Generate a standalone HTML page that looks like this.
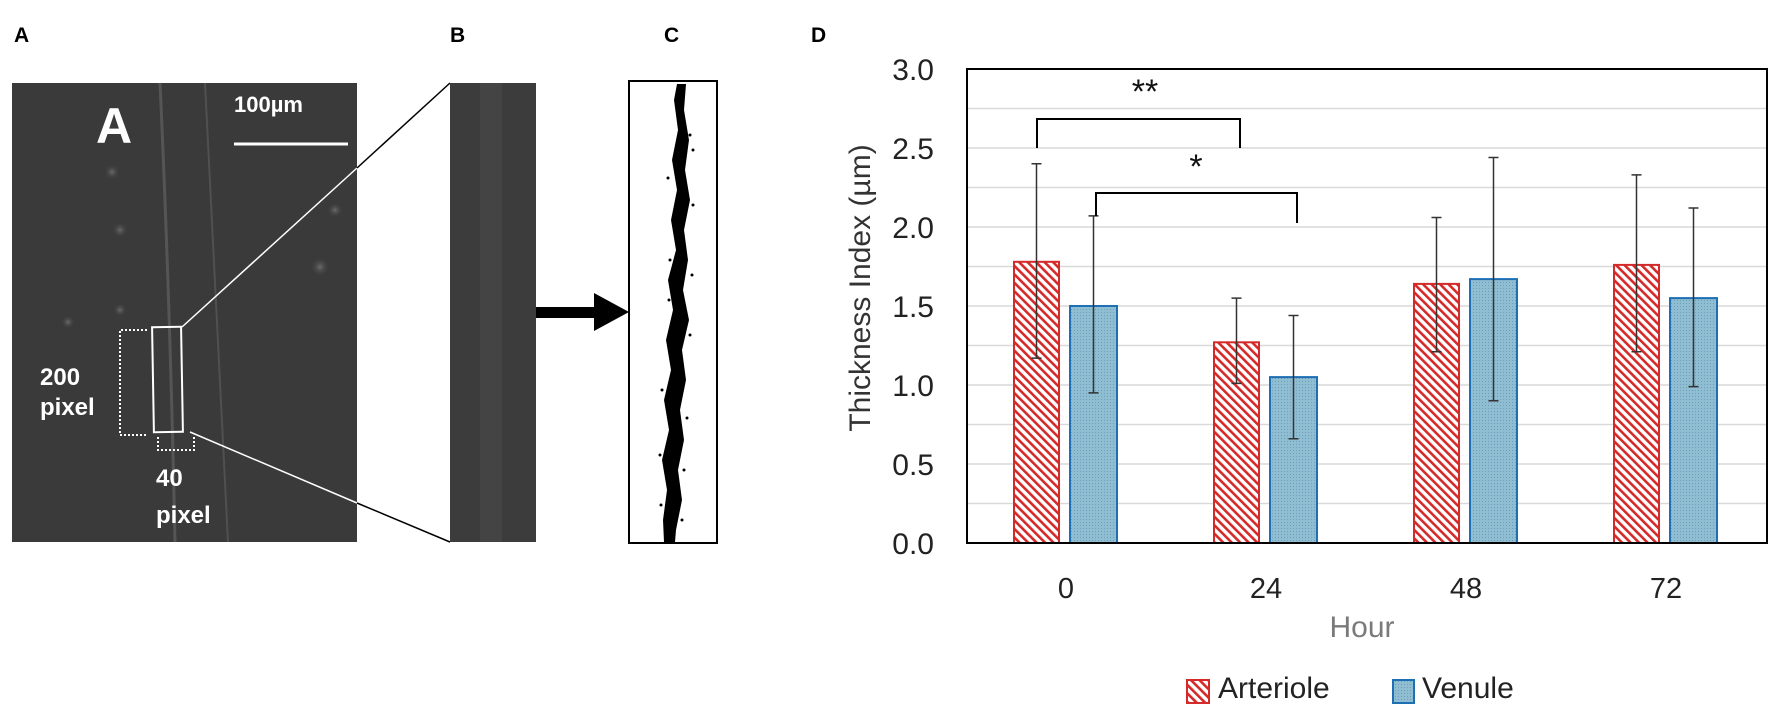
<!DOCTYPE html>
<html><head><meta charset="utf-8"><style>
html,body{margin:0;padding:0;background:#fff;}
svg{display:block;}
</style></head><body>
<svg width="1772" height="718" viewBox="0 0 1772 718" xmlns="http://www.w3.org/2000/svg" font-family="Liberation Sans, sans-serif">
<defs>
<pattern id="hatch" patternUnits="userSpaceOnUse" width="6" height="6" patternTransform="rotate(-45)">
<rect width="6" height="6" fill="#fff"/><rect x="0" y="0" width="2.6" height="6" fill="#d42a2a"/>
</pattern>
<pattern id="dots" patternUnits="userSpaceOnUse" width="3" height="3">
<rect width="3" height="3" fill="#8fbdd1"/><rect width="1" height="1" fill="#6f9fb8"/>
</pattern>
<radialGradient id="glow" cx="0.5" cy="0.5" r="0.5"><stop offset="0" stop-color="#6a6a6a"/><stop offset="1" stop-color="#3a3a3a" stop-opacity="0"/></radialGradient>
</defs>
<g font-weight="bold" font-size="21" fill="#000">
<text x="14" y="42">A</text><text x="450" y="42">B</text><text x="664" y="42">C</text><text x="811" y="42">D</text>
</g>
<rect x="12" y="83" width="345" height="459" fill="#3a3a3a"/>
<path d="M160 83 Q170 300 175 542" stroke="#555" stroke-width="3" fill="none"/>
<path d="M205 83 Q215 300 228 542" stroke="#505050" stroke-width="2" fill="none"/>
<circle cx="112" cy="172" r="8" fill="url(#glow)"/><circle cx="120" cy="230" r="8" fill="url(#glow)"/>
<circle cx="335" cy="210" r="8" fill="url(#glow)"/><circle cx="320" cy="267" r="10" fill="url(#glow)"/>
<circle cx="68" cy="322" r="7" fill="url(#glow)"/><circle cx="120" cy="310" r="7" fill="url(#glow)"/>
<text x="96" y="143" font-size="50" font-weight="bold" fill="#fff">A</text>
<text x="234" y="112" font-size="22" font-weight="bold" fill="#fff">100µm</text>
<line x1="234" y1="144" x2="348" y2="144" stroke="#fff" stroke-width="3"/>
<rect x="153" y="327" width="29" height="105" fill="none" stroke="#fff" stroke-width="2" transform="rotate(-1 168 380)"/>
<path d="M147 330 H120 V435 H147" fill="none" stroke="#fff" stroke-width="2" stroke-dasharray="2 2"/>
<path d="M158 437 V450 H194 V437" fill="none" stroke="#fff" stroke-width="2" stroke-dasharray="2 2"/>
<text x="40" y="385" font-size="24" font-weight="bold" fill="#fff">200</text>
<text x="40" y="415" font-size="24" font-weight="bold" fill="#fff">pixel</text>
<text x="156" y="486" font-size="24" font-weight="bold" fill="#fff">40</text>
<text x="156" y="523" font-size="24" font-weight="bold" fill="#fff">pixel</text>
<line x1="182" y1="327" x2="357" y2="168" stroke="#fff" stroke-width="1.5"/>
<line x1="357" y1="168" x2="450" y2="83" stroke="#000" stroke-width="1.5"/>
<line x1="190" y1="432" x2="357" y2="503" stroke="#fff" stroke-width="1.5"/>
<line x1="357" y1="503" x2="450" y2="542" stroke="#000" stroke-width="1.5"/>
<rect x="450" y="83" width="86" height="459" fill="#3c3c3c"/>
<rect x="480" y="83" width="22" height="459" fill="#444"/>
<rect x="536" y="307" width="60" height="11" fill="#000"/>
<polygon points="594,293 629,312 594,331" fill="#000"/>
<rect x="629" y="81" width="88" height="462" fill="#fff" stroke="#000" stroke-width="2"/>
<polygon fill="#000" points="677,84 686,84 684,110 689,140 685,170 690,200 684,230 688,260 683,290 689,320 682,350 686,380 680,410 684,440 678,470 682,500 676,530 675,542 664,542 663,520 667,490 662,460 669,430 664,400 671,370 666,340 673,310 668,280 676,250 671,220 677,190 672,160 678,130 674,100"/>
<g fill="#000">
<circle cx="690" cy="135" r="1.5"/><circle cx="693" cy="150" r="1.5"/><circle cx="668" cy="178" r="1.5"/><circle cx="693" cy="205" r="1.5"/><circle cx="670" cy="260" r="1.5"/><circle cx="692" cy="275" r="1.5"/><circle cx="669" cy="300" r="1.5"/><circle cx="690" cy="335" r="1.5"/><circle cx="662" cy="390" r="1.5"/><circle cx="687" cy="418" r="1.5"/><circle cx="660" cy="455" r="1.5"/><circle cx="684" cy="470" r="1.5"/><circle cx="661" cy="505" r="1.5"/><circle cx="682" cy="520" r="1.5"/>
</g>
<g stroke="#d9d9d9" stroke-width="1.5">
<line x1="967" x2="1767" y1="503.5" y2="503.5"/><line x1="967" x2="1767" y1="464" y2="464"/>
<line x1="967" x2="1767" y1="424.5" y2="424.5"/><line x1="967" x2="1767" y1="385" y2="385"/>
<line x1="967" x2="1767" y1="345.5" y2="345.5"/><line x1="967" x2="1767" y1="306" y2="306"/>
<line x1="967" x2="1767" y1="266.5" y2="266.5"/><line x1="967" x2="1767" y1="227" y2="227"/>
<line x1="967" x2="1767" y1="187.5" y2="187.5"/><line x1="967" x2="1767" y1="148" y2="148"/>
<line x1="967" x2="1767" y1="108.5" y2="108.5"/>
</g>
<rect x="967" y="69" width="800" height="474" fill="none" stroke="#000" stroke-width="2"/>
<g font-size="30" fill="#222" text-anchor="end">
<text x="934" y="554">0.0</text><text x="934" y="475">0.5</text><text x="934" y="396">1.0</text>
<text x="934" y="317">1.5</text><text x="934" y="238">2.0</text><text x="934" y="159">2.5</text><text x="934" y="80">3.0</text>
</g>
<text transform="translate(870,288) rotate(-90)" font-size="30" fill="#333" text-anchor="middle">Thickness Index (µm)</text>
<g stroke="#d42a2a" stroke-width="2" fill="url(#hatch)">
<rect x="1014" y="261.8" width="45" height="281.2"/>
<rect x="1214" y="342.3" width="45" height="200.7"/>
<rect x="1414" y="283.9" width="45" height="259.1"/>
<rect x="1614" y="264.9" width="45" height="278.1"/>
</g>
<g stroke="#1f6fb5" stroke-width="2" fill="url(#dots)">
<rect x="1070" y="306" width="47" height="237"/>
<rect x="1270" y="377.1" width="47" height="165.9"/>
<rect x="1470" y="279.1" width="47" height="263.9"/>
<rect x="1670" y="298.1" width="47" height="244.9"/>
</g>
<line x1="967" y1="543" x2="1767" y2="543" stroke="#000" stroke-width="2"/>
<g stroke="#333" stroke-width="1.5">
<path d="M1036.5 358.1V163.8M1031.5 163.8h10M1031.5 358.1h10"/>
<path d="M1093.5 392.9V215.9M1088.5 215.9h10M1088.5 392.9h10"/>
<path d="M1236.5 383.4V298.1M1231.5 298.1h10M1231.5 383.4h10"/>
<path d="M1293.5 438.7V315.5M1288.5 315.5h10M1288.5 438.7h10"/>
<path d="M1436.5 351.8V217.5M1431.5 217.5h10M1431.5 351.8h10"/>
<path d="M1493.5 400.8V157.5M1488.5 157.5h10M1488.5 400.8h10"/>
<path d="M1636.5 351.8V174.9M1631.5 174.9h10M1631.5 351.8h10"/>
<path d="M1693.5 386.6V208M1688.5 208h10M1688.5 386.6h10"/>
</g>
<path d="M1037 148V119H1240V148" fill="none" stroke="#000" stroke-width="2"/>
<path d="M1096 216V193H1297V223" fill="none" stroke="#000" stroke-width="2"/>
<text x="1145" y="103" font-size="34" text-anchor="middle" fill="#111">**</text>
<text x="1196" y="178" font-size="34" text-anchor="middle" fill="#111">*</text>
<g font-size="29" fill="#222" text-anchor="middle">
<text x="1066" y="598">0</text><text x="1266" y="598">24</text><text x="1466" y="598">48</text><text x="1666" y="598">72</text>
</g>
<text x="1362" y="637" font-size="30" fill="#7a7a7a" text-anchor="middle">Hour</text>
<rect x="1187" y="680" width="22" height="23" fill="url(#hatch)" stroke="#d42a2a" stroke-width="2"/>
<text x="1218" y="698" font-size="30" fill="#222">Arteriole</text>
<rect x="1393" y="680" width="21" height="23" fill="url(#dots)" stroke="#1f6fb5" stroke-width="2"/>
<text x="1422" y="698" font-size="30" fill="#222">Venule</text>
</svg>
</body></html>
